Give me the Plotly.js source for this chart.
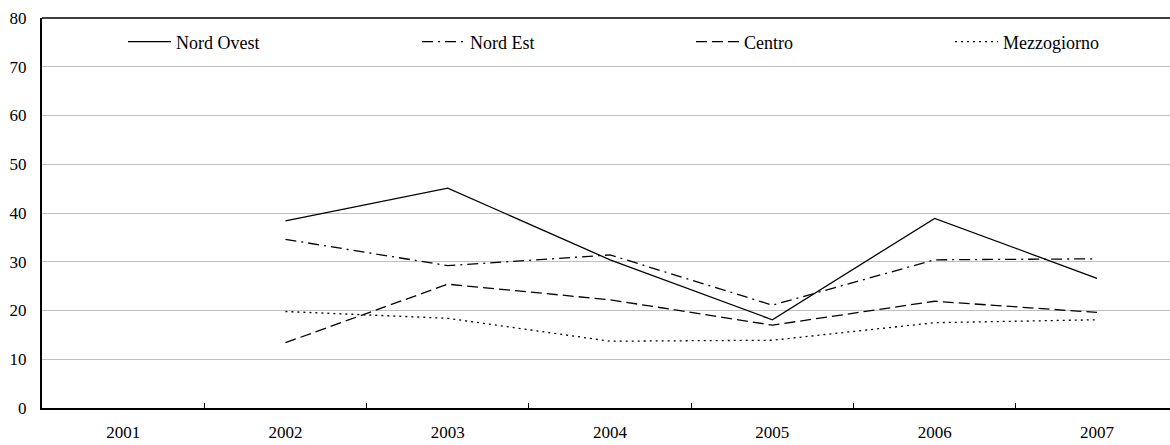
<!DOCTYPE html>
<html>
<head>
<meta charset="utf-8">
<script src="https://cdn.plot.ly/plotly-3.0.1.min.js"></script>
<style>
html,body{margin:0;padding:0;background:#fff;overflow:hidden;}
#chart{width:1170px;height:445px;}
</style>
</head>
<body>
<div id="chart"></div>
<script>
var years = ['2001','2002','2003','2004','2005','2006','2007'];
var nordOvest   = [null, 38.4, 45.1, 30.4, 18.1, 38.9, 26.6];
var nordEst     = [null, 34.6, 29.2, 31.4, 21.1, 30.4, 30.6];
var centro      = [null, 13.4, 25.4, 22.2, 17.0, 21.9, 19.6];
var mezzogiorno = [null, 19.8, 18.4, 13.7, 13.9, 17.5, 18.1];
var seriesNames = ['Nord Ovest','Nord Est','Centro','Mezzogiorno'];

var FONT = '"Liberation Serif", "Times New Roman", serif';
var dashes = ['solid', '11px,5px,2px,5px', '11px,5px', '2px,4px'];
var values = [nordOvest, nordEst, centro, mezzogiorno];
var legendIds = ['legend','legend2','legend3','legend4'];

var traces = values.map(function(v, i){
  return {
    x: years, y: v, type: 'scatter', mode: 'lines', name: seriesNames[i],
    line: {color: '#000', width: 1.3, dash: dashes[i]},
    legend: legendIds[i], connectgaps: false
  };
});

function px2paperX(px){ return (px - 42) / 1128; }
var legendStarts = [128, 422, 696, 955];
var legY = (408 - 42) / 390;

var layout = {
  width: 1170, height: 445,
  margin: {l: 42, r: 0, t: 18, b: 37, pad: 0},
  paper_bgcolor: '#fff', plot_bgcolor: '#fff',
  font: {family: FONT, size: 17, color: '#000'},
  showlegend: true,
  xaxis: {
    type: 'category', range: [-0.5, 6.45],
    showline: true, linecolor: '#000', linewidth: 2,
    ticks: 'inside', ticklen: 5, tickwidth: 1, tickcolor: '#000',
    tickson: 'boundaries', showgrid: false, zeroline: false,
    ticklabelstandoff: 8,
    tickfont: {family: FONT, size: 17, color: '#000'}
  },
  yaxis: {
    range: [0, 80], dtick: 10, tick0: 0,
    showline: true, linecolor: '#000', linewidth: 2,
    showgrid: true, gridcolor: '#c0c0c0', gridwidth: 1,
    zeroline: false, ticks: '', ticklabelstandoff: 10,
    tickfont: {family: FONT, size: 17, color: '#000'}
  },
  shapes: [{type: 'line', xref: 'paper', yref: 'paper', x0: 0, x1: 1, y0: 1, y1: 1,
            line: {color: '#000', width: 1.5}}]
};
legendIds.forEach(function(id, i){
  layout[id] = {
    x: px2paperX(legendStarts[i] - 5), xanchor: 'left',
    y: legY, yanchor: 'middle',
    orientation: 'h', bgcolor: 'rgba(0,0,0,0)', borderwidth: 0,
    itemwidth: 43,
    font: {family: FONT, size: 18, color: '#000'}
  };
});

Plotly.newPlot('chart', traces, layout, {displayModeBar: false, staticPlot: true});
</script>
</body>
</html>
